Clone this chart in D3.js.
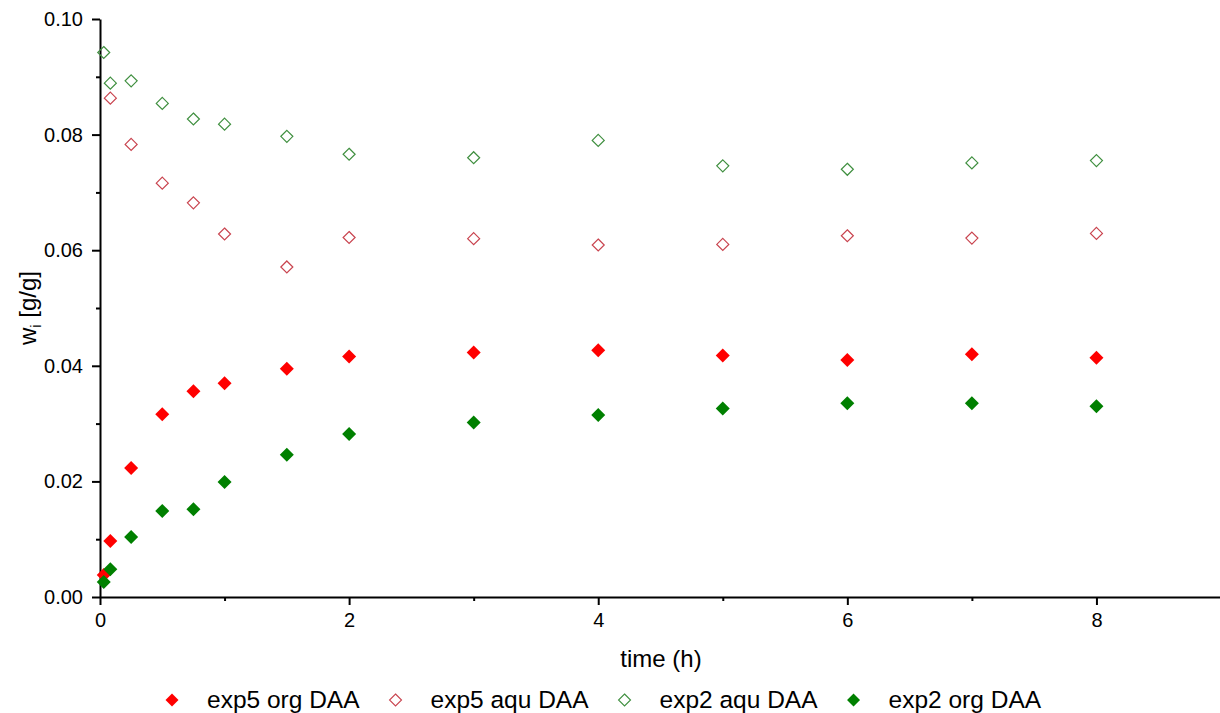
<!DOCTYPE html>
<html>
<head>
<meta charset="utf-8">
<script src="https://cdn.jsdelivr.net/npm/d3@7.9.0/dist/d3.min.js"></script>
<style>
  body { margin: 0; background: #fff; }
  svg { display: block; font-family: Arial, "Liberation Sans", sans-serif; }
</style>
</head>
<body>
<svg id="chart"></svg>
<script>
// values
const timeShort = [0.083, 0.25, 0.5, 0.75, 1, 1.5, 2, 3, 4, 5, 6, 7, 8];
const timeFull = [0.03, 0.083, 0.25, 0.5, 0.75, 1, 1.5, 2, 3, 4, 5, 6, 7, 8];

const exp5Org = [0.0038, 0.0097, 0.0223, 0.0316, 0.0356, 0.0370, 0.0395, 0.0416, 0.0423, 0.0427, 0.0418, 0.0410, 0.0420, 0.0414];
const exp5Aqu = [0.0863, 0.0783, 0.0716, 0.0682, 0.0628, 0.0571, 0.0622, 0.0620, 0.0609, 0.0610, 0.0625, 0.0621, 0.0629];
const exp2Aqu = [0.0942, 0.0889, 0.0893, 0.0854, 0.0827, 0.0818, 0.0797, 0.0766, 0.0760, 0.0790, 0.0746, 0.0740, 0.0751, 0.0755];
const exp2Org = [0.0026, 0.0048, 0.0104, 0.0149, 0.0152, 0.0199, 0.0246, 0.0282, 0.0302, 0.0315, 0.0326, 0.0335, 0.0335, 0.0330];

const xTicks = [0, 2, 4, 6, 8];
const yTicks = [0, 0.02, 0.04, 0.06, 0.08, 0.10];

const series = [
  { name: "exp5 org DAA", t: timeFull, v: exp5Org, color: "#ff0000", filled: true },
  { name: "exp5 aqu DAA", t: timeShort, v: exp5Aqu, color: "#c9444f", filled: false },
  { name: "exp2 aqu DAA", t: timeFull, v: exp2Aqu, color: "#3f8f3f", filled: false },
  { name: "exp2 org DAA", t: timeFull, v: exp2Org, color: "#008000", filled: true }
];

const width = 1220, height = 713;
const svg = d3.select("#chart").attr("width", width).attr("height", height);

const x = d3.scaleLinear().domain([0, 9]).range([100, 1221]);
const y = d3.scaleLinear().domain([0, 0.10]).range([597, 19]);

// diamond path helper
const diamond = r => `M0,${-r}L${r},0L0,${r}L${-r},0Z`;

// minor ticks first
svg.append("g")
  .attr("transform", "translate(0,597)")
  .call(d3.axisBottom(x).tickValues([1, 3, 5, 7]).tickSize(4).tickFormat(""))
  .call(g => g.select(".domain").remove())
  .call(g => g.selectAll("line").attr("stroke-width", 2));

svg.append("g")
  .attr("transform", "translate(100,0)")
  .call(d3.axisLeft(y).tickValues([0.01, 0.03, 0.05, 0.07, 0.09]).tickSize(4).tickFormat(""))
  .call(g => g.select(".domain").remove())
  .call(g => g.selectAll("line").attr("stroke-width", 2));

// x axis
const xAxis = svg.append("g")
  .attr("transform", "translate(0,597)")
  .call(d3.axisBottom(x).tickValues(xTicks).tickSize(8).tickSizeOuter(0).tickPadding(8).tickFormat(d3.format("d")));
xAxis.select(".domain").attr("stroke-width", 2);
xAxis.selectAll("line").attr("stroke-width", 2);
xAxis.selectAll("text").attr("font-size", 20).attr("fill", "#000");

// y axis
const yAxis = svg.append("g")
  .attr("transform", "translate(100,0)")
  .call(d3.axisLeft(y).tickValues(yTicks).tickSize(8).tickSizeOuter(0).tickPadding(9).tickFormat(d3.format(".2f")));
yAxis.select(".domain").attr("stroke-width", 2);
yAxis.selectAll("line").attr("stroke-width", 2);
yAxis.selectAll("text").attr("font-size", 20).attr("fill", "#000");

// axis titles
svg.append("text")
  .attr("x", 661).attr("y", 667)
  .attr("text-anchor", "middle")
  .attr("font-size", 24)
  .text("time (h)");

const yt = svg.append("text")
  .attr("transform", "translate(36,308) rotate(-90)")
  .attr("text-anchor", "middle")
  .attr("font-size", 24);
yt.append("tspan").text("w");
yt.append("tspan").attr("font-size", 15).attr("dy", 5).text("i");
yt.append("tspan").attr("dy", -5).text(" [g/g]");

// points
series.forEach(s => {
  svg.append("g")
    .selectAll("path")
    .data(s.t.map((t, i) => ({ t, v: s.v[i] })))
    .join("path")
    .attr("transform", d => `translate(${x(d.t)},${y(d.v)})`)
    .attr("d", s.filled ? diamond(7) : diamond(6))
    .attr("fill", s.filled ? s.color : "none")
    .attr("stroke", s.color)
    .attr("stroke-width", s.filled ? 0 : 1.2);
});

// legend: marker, text 35px to its right, then a gap to the next marker
let lx = 172;
series.forEach(s => {
  const g = svg.append("g").attr("transform", `translate(${lx},700)`);
  g.append("path")
    .attr("d", s.filled ? diamond(6.5) : diamond(6))
    .attr("fill", s.filled ? s.color : "none")
    .attr("stroke", s.color)
    .attr("stroke-width", s.filled ? 0 : 1.1);
  const t = g.append("text")
    .attr("x", 35).attr("y", 8)
    .attr("font-size", 24.5)
    .text(s.name);
  lx += 35 + t.node().getComputedTextLength() + 36;
});
</script>
</body>
</html>
